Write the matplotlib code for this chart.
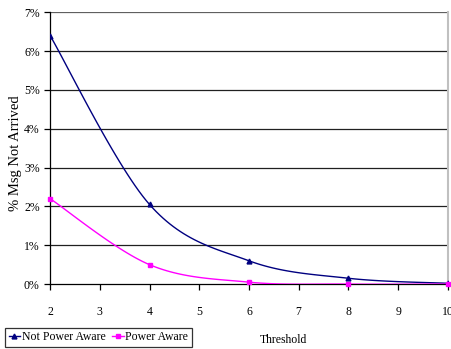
import numpy as np
import matplotlib.pyplot as plt
from matplotlib.ticker import FuncFormatter
from matplotlib.lines import Line2D

threshold = [2, 4, 6, 8, 10]
not_power_aware = [6.4, 2.05, 0.6, 0.15, 0.02]
power_aware = [2.2, 0.5, 0.05, 0.0, 0.0]


def smooth(xs, ys, n=30):
    # excel-style smoothed line (bezier through points)
    p = np.column_stack([xs, ys]).astype(float)
    pts = np.vstack([p[0], p, p[-1]])
    out = []
    for i in range(1, len(pts) - 2):
        p0, p1, p2, p3 = pts[i - 1], pts[i], pts[i + 1], pts[i + 2]
        c1 = p1 + (p2 - p0) / 6
        c2 = p2 - (p3 - p1) / 6
        t = np.linspace(0, 1, n)[:, None]
        seg = (1 - t) ** 3 * p1 + 3 * (1 - t) ** 2 * t * c1 + 3 * (1 - t) * t ** 2 * c2 + t ** 3 * p2
        out.append(seg)
    out = np.vstack(out)
    return out[:, 0], out[:, 1]


plt.rcParams['font.family'] = ['Liberation Serif', 'DejaVu Serif']
fig = plt.figure(figsize=(4.51, 3.49), dpi=100)
ax = fig.add_axes([0.111, 0.186, 0.882, 0.779])

for y in range(1, 8):
    ax.axhline(y, color='#202020' if y < 7 else '#606060', lw=0.9, zorder=1)

sx, sy = smooth(threshold, not_power_aware)
ax.plot(sx, sy, color='#000080', lw=1, zorder=3)
ax.plot(threshold, not_power_aware, color='#000080', marker='^', ms=3.5,
        linestyle='none', zorder=4)
sx, sy = smooth(threshold, power_aware)
ax.plot(sx, sy, color='#ff00ff', lw=1, zorder=3)
ax.plot(threshold, power_aware, color='#ff00ff', marker='s', ms=3.5,
        linestyle='none', zorder=4, clip_on=False)

ax.set_xlim(2, 10)
ax.set_ylim(0, 7)
ax.set_xticks(range(2, 11))
ax.set_yticks(range(0, 8))
ax.yaxis.set_major_formatter(FuncFormatter(lambda v, p: '%d%%' % v))
ax.tick_params(labelsize=8.5, length=4, width=0.9, color='black', direction='out')
ax.tick_params(axis='x', pad=12)
ax.spines['top'].set_visible(False)
ax.spines['right'].set_color('#c0c0c0')
ax.spines['right'].set_linewidth(1.5)
ax.spines['left'].set_linewidth(0.9)
ax.spines['bottom'].set_linewidth(0.9)

fig.text(0.035, 0.56, '% Msg Not Arrived', fontsize=10.5, rotation=90,
         ha='center', va='center')
fig.text(0.628, 0.025, 'Threshold', fontsize=8.5, ha='center', va='center')

h1 = Line2D([], [], color='#000080', lw=1, marker='^', ms=3.5)
h2 = Line2D([], [], color='#ff00ff', lw=1, marker='s', ms=3.5)
leg = fig.legend([h1, h2], ['Not Power Aware', 'Power Aware'], loc='lower left',
                 bbox_to_anchor=(0.011, 0.006), ncol=2, fontsize=8.5, frameon=True,
                 fancybox=False, edgecolor='black', handlelength=1.0, handletextpad=0.15,
                 columnspacing=0.5, borderpad=0.3, borderaxespad=0)
leg.get_frame().set_linewidth(0.9)

fig.savefig('out.png', dpi=100)
